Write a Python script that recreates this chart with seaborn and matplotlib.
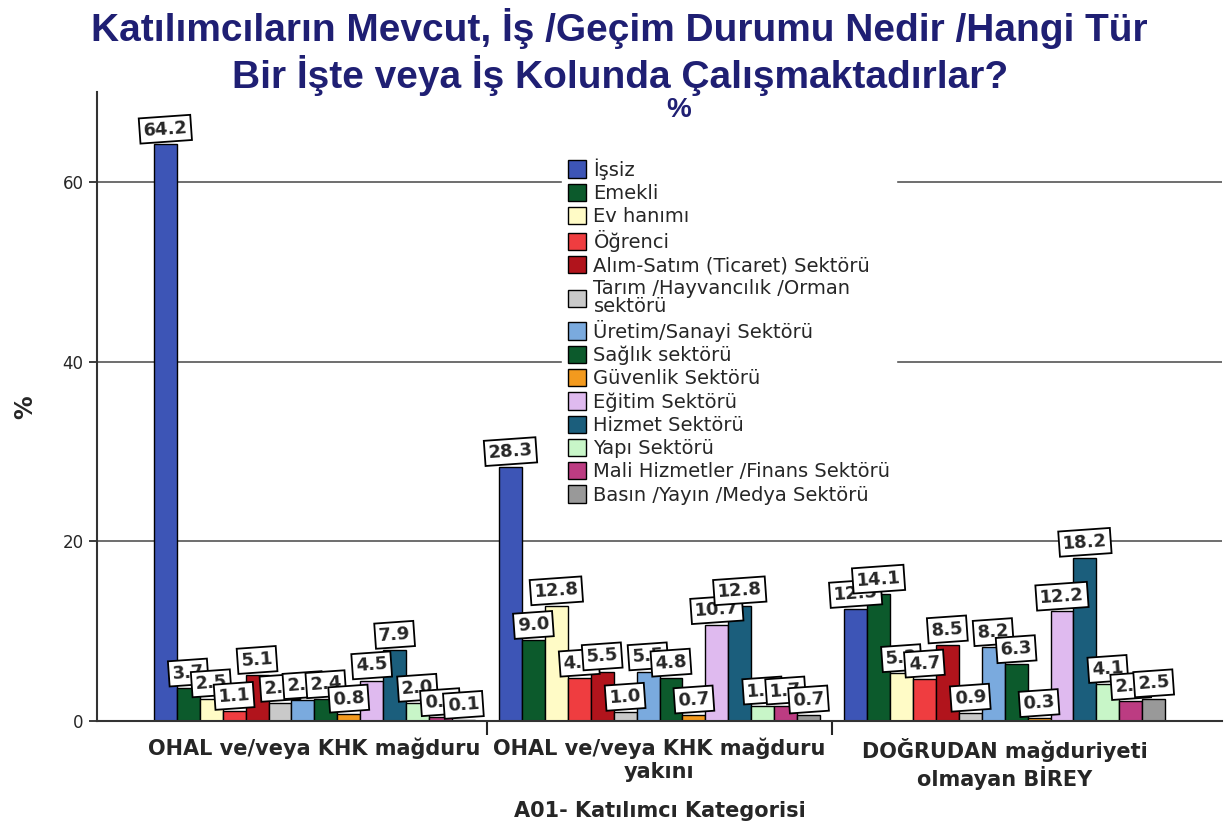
import numpy as np
import pandas as pd
import matplotlib
matplotlib.use('Agg')
import matplotlib.pyplot as plt
import seaborn as sns

# Data
kategoriler = ['OHAL ve/veya KHK mağduru',
               'OHAL ve/veya KHK mağduru\nyakını',
               'DOĞRUDAN mağduriyeti\nolmayan BİREY']
durumlar = ['İşsiz', 'Emekli', 'Ev hanımı', 'Öğrenci',
            'Alım-Satım (Ticaret) Sektörü',
            'Tarım /Hayvancılık /Orman\nsektörü',
            'Üretim/Sanayi Sektörü', 'Sağlık sektörü', 'Güvenlik Sektörü',
            'Eğitim Sektörü', 'Hizmet Sektörü', 'Yapı Sektörü',
            'Mali Hizmetler /Finans Sektörü', 'Basın /Yayın /Medya Sektörü']
magdur = [64.2, 3.7, 2.5, 1.1, 5.1, 2.0, 2.3, 2.4, 0.8, 4.5, 7.9, 2.0, 0.4, 0.1]
yakini = [28.3, 9.0, 12.8, 4.8, 5.5, 1.0, 5.5, 4.8, 0.7, 10.7, 12.8, 1.7, 1.7, 0.7]
birey = [12.5, 14.1, 5.3, 4.7, 8.5, 0.9, 8.2, 6.3, 0.3, 12.2, 18.2, 4.1, 2.2, 2.5]
renkler = ['#3d55b6', '#0c5a2c', '#fffbc6', '#ef3d40', '#b1141c', '#c9c9c9',
           '#7aaade', '#0c5a2c', '#f39a1e', '#dfbaef', '#1b5e7c', '#c8f6c8',
           '#bc3c82', '#999999']

rows = []
for kat, vals in zip(kategoriler, [magdur, yakini, birey]):
    for d, v in zip(durumlar, vals):
        rows.append({'kategori': kat, 'durum': d, 'yuzde': v})
df = pd.DataFrame(rows)

sns.set_theme(style='white')
plt.rcParams['font.family'] = ['DejaVu Sans']

fig = plt.figure(figsize=(12.27, 8.25), dpi=100)
ax = fig.add_axes([0.079, 0.126, 0.917, 0.762])

sns.barplot(data=df, x='kategori', y='yuzde', hue='durum', order=kategoriler,
            hue_order=durumlar, palette=renkler, edgecolor='black',
            linewidth=1, width=0.93, saturation=1, ax=ax)

# value labels in boxes
for cont in ax.containers:
    for bar in cont:
        h = bar.get_height()
        ax.annotate(f'{h:.1f}', (bar.get_x() + bar.get_width() / 2, h),
                    xytext=(0, 11), textcoords='offset points',
                    ha='center', va='center', fontsize=13, fontweight='bold',
                    rotation=4,
                    bbox=dict(boxstyle='square,pad=0.2', fc='white',
                              ec='black', lw=1.3))

ax.set_xlim(-0.63, 2.63)
ax.set_ylim(0, 70)
ax.set_yticks([0, 20, 40, 60])
ax.yaxis.grid(True, color='#555555', linewidth=1.2)
ax.set_axisbelow(True)
for s in ['top', 'right']:
    ax.spines[s].set_visible(False)
for s in ['left', 'bottom']:
    ax.spines[s].set_color('#333333')
    ax.spines[s].set_linewidth(1.5)
ax.tick_params(axis='y', left=True, length=6, labelsize=12)
ax.tick_params(axis='x', which='major', length=0, labelsize=15, pad=12)
ax.set_xticks([0.5, 1.5], minor=True)
ax.tick_params(axis='x', which='minor', bottom=True, length=10, width=1.5)
for t in ax.get_xticklabels():
    t.set_fontweight('bold')
ax.set_xlabel('A01- Katılımcı Kategorisi', fontsize=15, fontweight='bold',
              labelpad=8)
ax.set_ylabel('%', fontsize=17, fontweight='bold', labelpad=18)

leg = ax.legend(loc='upper left', bbox_to_anchor=(0.405, 0.92), frameon=True,
                fontsize=14, handlelength=0.9, handleheight=1.0,
                labelspacing=0.2, handletextpad=0.4, borderpad=0.3)
leg.get_frame().set_facecolor('white')
leg.get_frame().set_edgecolor('white')
leg.get_frame().set_alpha(1)
leg.get_frame().set_boxstyle('square', pad=0)
for t in leg.get_texts():
    t.set_linespacing(0.9)

baslik = '#1f1f73'
fig.text(0.505, 0.965, 'Katılımcıların Mevcut, İş /Geçim Durumu Nedir /Hangi Tür',
         ha='center', va='center', fontsize=28, fontweight='bold', color=baslik,
         family='Liberation Sans')
fig.text(0.505, 0.908, 'Bir İşte veya İş Kolunda Çalışmaktadırlar?',
         ha='center', va='center', fontsize=28, fontweight='bold', color=baslik,
         family='Liberation Sans')
fig.text(0.553, 0.867, '%', ha='center', va='center', fontsize=20,
         fontweight='bold', color=baslik, family='Liberation Sans')

fig.savefig('out.png', dpi=100)
